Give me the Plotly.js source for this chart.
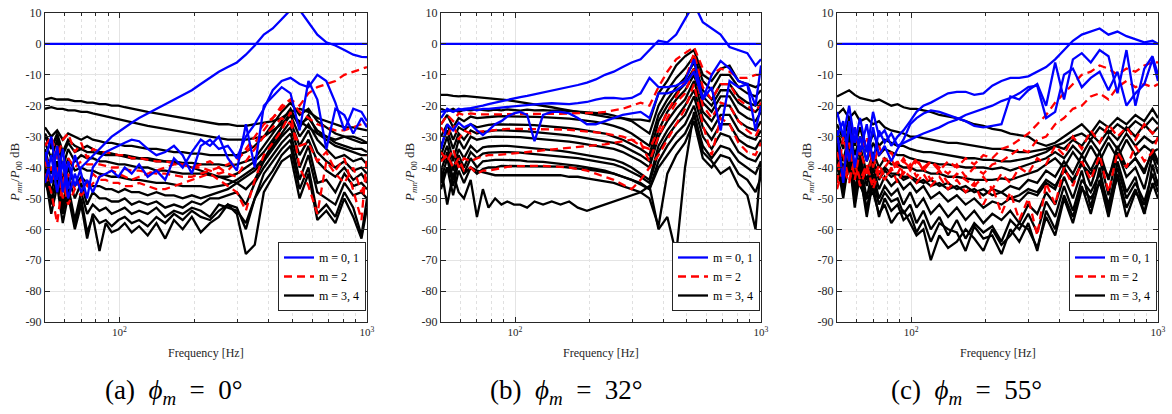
<!DOCTYPE html>
<html>
<head>
<meta charset="utf-8">
<script src="https://cdn.plot.ly/plotly-3.0.1.min.js"></script>
<style>
html,body{margin:0;padding:0;background:#fff;}
#chart{width:1172px;height:414px;}
</style>
</head>
<body>
<div id="chart"></div>
<script>
// ---------- DATA ----------
const freq = [50,53,56,59,62,66,70,74,78,83, 88,93,99,105,112,120,130,141,153,166, 180,196,213,232,252,274,298,324,352,383, 416,452,491,534,580,630,685,745,810,880, 950,1000];
const zeroFreq = [50,1000];
const zeroVal = [0,0];
const legendNames = ["m = 0, 1", "m = 2", "m = 3, 4"];
const captions = [
  "(a)&nbsp;&nbsp;<i>ϕ</i><sub><i>m</i></sub>&nbsp;&nbsp;=&nbsp;&nbsp;0°",
  "(b)&nbsp;&nbsp;<i>ϕ</i><sub><i>m</i></sub>&nbsp;&nbsp;=&nbsp;&nbsp;32°",
  "(c)&nbsp;&nbsp;<i>ϕ</i><sub><i>m</i></sub>&nbsp;&nbsp;=&nbsp;&nbsp;55°"
];
const xTickVals = [100,1000];
const xTickText = ["10<sup>2</sup>","10<sup>3</sup>"];
const xMinorVals = [50,60,70,80,90,200,300,400,500,600,700,800,900];
const yTickVals = [-90,-80,-70,-60,-50,-40,-30,-20,-10,0,10];
const yTickText = ["-90","-80","-70","-60","-50","-40","-30","-20","-10","0","10"];

// Panel (a) phi = 0
const aBlue1 = [-35,-45,-33,-48,-38,-46,-40,-38,-36,-34, -32,-30,-28.5,-27,-25.5,-24,-22.5,-21,-19.5,-18, -16.5,-15,-13,-11,-9,-7.5,-6,-3.5,-0.5,3, 5,8,11,11,7,3,0.5,-0.5,-2,-3.5, -4.2,-4.3];
const aBlue2 = [-38,-30,-44,-34,-47,-36,-42,-50,-40,-37, -35,-34,-33,-32,-31,-31.5,-34,-36,-35,-33, -36,-42,-33,-31,-34,-33,-37,-30,-26,-21, -15,-12,-11,-13,-14,-10,-12,-19,-28,-21, -22,-25];
const aBlue3 = [-45,-36,-48,-38,-50,-42,-48,-44,-48,-43, -42,-41,-43,-40,-42,-39,-43,-41,-44,-37, -40,-35,-31,-33,-30,-37,-41,-26,-40,-20, -17,-14,-16,-28,-12,-18,-34,-21,-23,-29, -24,-27];
const aRed1 = [-33,-30,-37,-31,-29,-35,-32,-37,-34,-35, -35,-35.5,-36,-36,-37,-37,-37.5,-38,-38,-38.5, -39,-40,-40,-41,-42,-41,-38,-34,-30,-26, -24,-20,-18,-20,-16,-14,-13,-12,-10,-9, -8,-7.5];
const aRed2 = [-36,-41,-33,-45,-37,-40,-38,-39,-39,-39, -39.5,-40,-40,-40.5,-41,-41,-41.5,-42,-42,-42.5, -43,-43,-42,-41,-40,-39,-37,-35,-32,-28, -24,-21,-18,-22,-24,-26,-27,-28,-28,-27, -26,-26];
const aRed3 = [-38,-45,-40,-50,-42,-47,-44,-46,-42,-44, -44,-45,-45,-46,-46,-45,-46,-47,-47,-46, -45,-44,-43,-42,-44,-46,-48,-54,-44,-36, -32,-28,-22,-40,-46,-55,-38,-42,-45,-40, -48,-43];
const aRed4 = [-42,-48,-58,-44,-52,-47,-49,-47,-45,-43, -42,-41,-42,-43,-44,-43,-42,-41,-40,-39, -39,-40,-39,-38,-40,-42,-43,-38,-34,-30, -27,-24,-26,-33,-32,-38,-35,-41,-37,-47, -57,-36];
const aBlack1 = [-18,-17.5,-18,-18,-18,-18.5,-18.5,-19,-19,-19.5, -19.5,-20,-20,-20.5,-21,-21.5,-22,-22.5,-23,-23.5, -24,-24.5,-25,-25.5,-26,-26,-26.5,-26.5,-26,-25.5, -25,-24,-22,-21,-22,-24,-25,-26,-27,-27, -27.5,-28];
const aBlack2 = [-21,-20.5,-21,-21,-21.5,-21.5,-22,-22,-22.5,-23, -23.5,-24,-24.5,-25,-25.5,-26,-26.5,-27,-27.5,-28, -28.5,-29,-29.5,-30,-30.5,-31,-31,-31,-30.5,-30, -28,-26,-23,-25,-27,-29,-30,-31,-30,-31, -32,-32];
const aBlack3 = [-27,-30,-28,-31,-29,-30,-31,-30,-31,-31.5, -32,-32,-32.5,-33,-33,-33.5,-34,-34,-34.5,-35, -35,-35.5,-35.5,-36,-36,-36,-36,-35,-33,-30, -26,-22,-19,-23,-21,-25,-27,-29,-30,-30, -31,-32];
const aBlack4 = [-30,-34,-29,-35,-31,-33,-34,-33,-34,-35, -35,-35.5,-36,-36,-36.5,-37,-37,-37.5,-38,-38, -38.5,-38.5,-39,-39,-39,-39.5,-39,-38,-37,-33, -29,-25,-21,-27,-23,-29,-31,-33,-34,-35, -36,-36];
const aBlack5 = [-32,-37,-31,-40,-34,-38,-36,-37,-37,-38, -38,-38.5,-39,-39,-39.5,-40,-40,-41,-41,-41.5, -42,-42,-42,-42.5,-43,-43,-42,-40,-38,-35, -31,-27,-23,-30,-26,-31,-34,-37,-36,-38, -37,-39];
const aBlack6 = [-34,-42,-35,-44,-37,-41,-40,-41,-41,-42, -42.5,-43,-43,-43.5,-44,-44,-44.5,-45,-45,-45.5, -46,-46,-46,-46.5,-46,-45.5,-44,-42,-40,-37, -33,-29,-25,-33,-28,-35,-38,-40,-38,-41, -40,-42];
const aBlack7 = [-36,-45,-38,-48,-40,-46,-43,-45,-46,-46, -47,-47,-48,-47,-48,-48,-49,-48,-49,-49, -50,-49,-50,-49,-48,-47,-45,-43,-41,-38, -34,-30,-27,-36,-31,-38,-41,-43,-40,-44, -42,-45];
const aBlack8 = [-38,-48,-40,-52,-43,-50,-45,-52,-48,-50, -50,-51,-51,-50,-52,-51,-52,-51,-53,-52, -53,-51,-52,-50,-50,-49,-48,-52,-45,-40, -36,-32,-29,-40,-33,-45,-44,-48,-42,-46, -45,-47];
const aBlack9 = [-40,-52,-43,-55,-46,-57,-48,-55,-52,-54, -53,-55,-54,-53,-55,-54,-55,-53,-56,-54, -55,-53,-54,-56,-52,-53,-54,-58,-50,-42, -38,-34,-31,-44,-36,-48,-50,-52,-45,-49, -48,-50];
const aBlack10 = [-42,-55,-46,-58,-49,-60,-52,-63,-55,-58, -57,-59,-57,-56,-58,-57,-59,-56,-58,-55, -57,-54,-56,-57,-54,-52,-53,-60,-50,-45, -41,-36,-33,-47,-40,-55,-52,-56,-48,-53, -62,-50];
const aBlack11 = [-45,-50,-44,-53,-47,-59,-50,-61,-56,-67, -58,-61,-60,-58,-61,-59,-62,-58,-63,-57, -60,-56,-61,-58,-56,-52,-55,-68,-65,-48, -43,-38,-36,-50,-42,-57,-54,-58,-50,-56, -63,-53];
const aBlack12 = [-29,-33,-30,-36,-32,-35,-34,-35,-35,-35.5, -36,-36,-36,-36.5,-37,-37,-37.5,-38,-38,-38.5, -39,-40,-41,-42,-43,-44,-45,-47,-44,-38, -32,-27,-22,-26,-24,-28,-30,-32,-33,-34, -34,-35];

// Panel (b) phi = 32
const bBlue1 = [-22,-21.5,-21.8,-21.3,-21,-20.8,-20.5,-20,-19.5,-19, -18.5,-18,-17.5,-17.2,-16.8,-16.3,-15.8,-15.2,-14.6,-14, -13.3,-12.5,-11.5,-10,-9,-7.5,-6,-5,-2,1, 0.5,3,8,13,7,5,3,-1,-2,-3, -7,-5];
const bBlue2 = [-24,-21,-22,-21,-21.5,-21,-21.5,-21,-21,-20.8, -20.6,-20.5,-20.3,-20,-19.7,-19.5,-19.3,-19.2,-19.3,-19.5, -19.2,-18.8,-18,-17.5,-17.5,-17.8,-17.5,-16,-11,-14, -14,-13.5,-12,-5,-18,-10,-5.5,-8,-12,-13, -20,-7];
const bBlue3 = [-34,-26,-28,-25.5,-27,-26,-28,-29.5,-28,-26, -25,-23.5,-22.5,-22,-23,-31.5,-23,-22,-22,-22.5, -24,-26,-26,-25,-24,-23,-22.5,-22,-24,-16, -16,-15,-13,-9,-18,-14,-28,-12,-14,-13, -28,-20];
const bRed1 = [-26,-23,-25,-22.5,-23,-22.5,-22.8,-22.7,-22.8,-22.8, -22.8,-22.8,-22.8,-22.8,-22.8,-22.7,-22.7,-22.6,-22.6,-22.5, -22.5,-22.4,-22.3,-22,-21.5,-21,-20,-19,-20,-14, -9,-5,-3,-1,-8,-10,-8,-9,-11,-11, -10,-10];
const bRed2 = [-27,-30,-26,-31,-28,-29,-28.5,-28.3,-28,-27.8, -27.5,-27.5,-27.5,-27.5,-27.5,-27.5,-27.5,-27.6,-27.7,-27.8, -28,-28.3,-28.6,-29,-29.5,-30,-31,-33,-34,-28, -22,-17,-12,-3,-14,-18,-13,-13,-18,-20, -22,-19];
const bRed3 = [-35,-38,-34,-40,-37,-38,-37,-36.5,-36,-36, -35.8,-35.7,-35.5,-35.3,-35,-34.8,-34.5,-34.2,-34,-33.8, -33.5,-33.2,-33,-32.5,-32,-31.5,-31,-32,-38,-30, -24,-19,-16,-8,-20,-24,-19,-20,-25,-28, -30,-26];
const bRed4 = [-38,-36,-40,-37,-41,-40,-42,-41,-41,-40.5, -40,-39.8,-39.6,-39.5,-39.5,-39.5,-39.5,-39.6,-39.8,-40, -40.5,-41,-42,-43,-44,-45.5,-47,-44,-40,-36, -31,-26,-21,-13,-26,-36,-24,-26,-32,-35, -36,-32];
const bBlack1 = [-16.5,-16.5,-16.8,-17,-16.8,-17,-17.2,-17.3,-17.5,-17.7, -18,-18.2,-18.5,-18.8,-19.2,-19.5,-20,-20.5,-21,-21.5, -22,-22.5,-23,-23.5,-24,-24,-24.5,-24.5,-25,-16, -12,-7,-4,-2,-10,-12,-8,-7,-12,-13, -14,-13];
const bBlack2 = [-21,-21.8,-21,-22,-21.3,-21.5,-21.2,-21.4,-21.6,-21.3, -21.5,-21.2,-21.4,-21.6,-21.3,-21.5,-21.4,-21.6,-21.5,-21.7, -21.8,-22,-22.2,-22.6,-23.2,-24,-25,-27,-29,-20, -15,-11,-8,-4,-12,-15,-10,-10,-14,-16, -17,-15];
const bBlack3 = [-26,-23,-27,-24,-25,-23.5,-24,-23.8,-23.5,-23.5, -23.4,-23.4,-23.5,-23.5,-23.6,-23.6,-23.7,-23.8,-24,-24.2, -24.5,-24.8,-25.2,-25.8,-26.5,-27.5,-29,-31,-33,-23, -18,-14,-11,-6,-15,-18,-13,-13,-17,-19, -20,-18];
const bBlack4 = [-30,-26,-31,-27,-28,-26,-27,-26.5,-26.2,-26, -26,-26,-26,-26,-26.2,-26.3,-26.5,-26.7,-27,-27.3, -27.6,-28,-28.5,-29,-30,-31,-32.5,-34,-36,-25, -20,-16,-13,-8,-17,-20,-15,-15,-19,-21, -22,-20];
const bBlack5 = [-33,-28,-34,-29,-31,-28,-29,-28.5,-28.3,-28, -28,-28,-28,-28.2,-28.3,-28.5,-28.7,-29,-29.3,-29.6, -30,-30.5,-31,-31.5,-32,-33,-34.5,-36,-38,-28, -22,-18,-15,-10,-19,-22,-17,-17,-22,-24, -25,-22];
const bBlack6 = [-36,-30,-38,-31,-34,-30,-31,-30.5,-30.2,-30, -30,-30,-30.2,-30.2,-30.4,-30.6,-30.8,-31,-31.3,-31.6, -32,-32.5,-33,-33.5,-34,-35,-36.5,-38,-40,-30, -25,-21,-18,-12,-22,-25,-20,-20,-25,-27, -28,-25];
const bBlack7 = [-38,-33,-41,-34,-37,-33,-35,-33.5,-33.2,-33, -33,-33,-33.2,-33.3,-33.5,-33.7,-34,-34.3,-34.6,-35, -35.5,-36,-36.5,-37,-37.5,-38.5,-40,-42,-44,-33, -28,-24,-20,-15,-24,-28,-23,-23,-28,-30, -31,-28];
const bBlack8 = [-41,-35,-44,-36,-40,-35,-37,-35.5,-35.2,-35, -35,-35,-35,-35.2,-35.4,-35.6,-35.8,-36,-36.3,-36.7, -37,-37.5,-38,-38.5,-39,-40,-41.5,-43,-45,-35, -30,-26,-23,-17,-27,-31,-26,-26,-31,-33, -34,-31];
const bBlack9 = [-44,-37,-46,-38,-42,-37,-40,-38,-37.8,-37.5, -37.5,-37.5,-37.5,-37.7,-38,-38,-38.2,-38.5,-38.8,-39, -39.5,-40,-40.5,-41,-42,-43,-44,-45,-47,-38, -33,-29,-26,-20,-30,-34,-29,-30,-35,-37, -38,-35];
const bBlack10 = [-47,-40,-49,-41,-45,-40,-42,-40.5,-40,-40, -39.5,-39.5,-39.5,-39.5,-39.5,-39.5,-39.5,-39.5,-39.7,-40, -40.3,-40.7,-41,-41.5,-42,-43,-44,-45.5,-47,-40, -36,-32,-29,-23,-33,-37,-33,-34,-38,-40, -42,-38];
const bBlack11 = [-40,-52,-42,-48,-50,-44,-56,-47,-53,-50, -52,-51,-52,-52,-53,-51,-52,-51,-52,-51, -53,-54,-53,-52,-51,-50,-49,-48,-46,-60, -56,-68,-40,-22,-35,-38,-42,-40,-46,-49, -60,-38];
const bBlack12 = [-45,-40,-43,-38,-42,-40,-41,-41.5,-42,-42.5, -42.5,-42.5,-42.5,-42.5,-42.5,-42.5,-42.5,-42.5,-42.5,-43, -43,-43.5,-44,-44.5,-45,-46,-47,-48,-50,-59, -42,-36,-32,-25,-37,-40,-36,-37,-42,-44, -48,-43];

// Panel (c) phi = 55
const cBlue1 = [-22,-30,-20,-32,-24,-35,-22,-30,-28,-33, -30,-28,-25,-22,-20,-19,-17.5,-16,-15.5,-15.5, -16.5,-16,-13.5,-12,-11,-11,-10.5,-9,-7.5,-5, -2,1,3,4,5,3,4,2.5,1.5,0.5, 1,0];
const cBlue2 = [-28,-45,-25,-40,-30,-38,-27,-36,-33,-38, -34,-31,-26,-24,-22.5,-21.5,-22,-23,-24,-25, -26.5,-27,-26.5,-26,-17,-18,-15,-13,-20,-6, -18,-5,-3,-6,-2,-4,-16,-2,-20,-8, -4,-10];
const cBlue3 = [-30,-25,-38,-27,-35,-26,-38,-28,-32,-29, -33,-32,-31,-30,-29,-28,-27,-25.5,-24.5,-23, -22,-21,-20,-18.5,-17.5,-16,-14,-13.5,-24,-22, -10,-8,-14,-11,-9,-15,-9,-20,-16,-13, -5,-12];
const cRed1 = [-45,-30,-38,-27,-36,-30,-40,-33,-38,-35, -40,-37,-41,-38,-40,-38,-41,-38,-40,-37, -39,-36,-37,-34,-33,-31,-29,-26,-23,-19, -16,-13,-10,-9,-7,-8,-10,-8,-9,-7, -6,-6];
const cRed2 = [-35,-42,-32,-44,-34,-42,-36,-44,-40,-37, -42,-38,-40,-37,-41,-38,-40,-42,-39,-43, -40,-42,-39,-38,-36,-34,-35,-31,-30,-26, -24,-21,-20,-17,-16,-18,-14,-12,-14,-13, -14,-13];
const cRed3 = [-40,-36,-44,-38,-46,-40,-45,-39,-43,-41, -38,-42,-39,-43,-40,-44,-41,-45,-42,-44, -46,-43,-47,-42,-45,-40,-42,-37,-39,-33, -36,-30,-34,-28,-32,-26,-30,-27,-31,-26, -29,-27];
const cRed4 = [-47,-40,-45,-37,-44,-39,-47,-41,-44,-40, -45,-41,-43,-45,-42,-46,-43,-47,-44,-48, -45,-52,-46,-55,-48,-57,-50,-62,-45,-52, -40,-46,-38,-44,-36,-48,-35,-40,-33,-38, -35,-30];
const cBlack1 = [-17,-16,-15,-16.5,-17.5,-18,-18.5,-18,-19,-20, -19.5,-20.5,-21,-21,-21.5,-22,-23,-23.5,-24,-25, -26,-26.5,-27.5,-28,-29,-29.5,-30,-32,-33,-32, -30,-28,-26,-29,-25,-27,-24,-26,-23,-25, -21,-24];
const cBlack2 = [-23,-21,-24,-22,-25,-24,-26,-25,-27,-28, -28.5,-29,-30,-30,-30.5,-31,-31.5,-32,-32,-32.5, -33,-33.5,-34,-34,-34.5,-35,-35,-34.5,-34,-33, -32,-30,-29,-31,-27,-29,-26,-28,-25,-27, -24,-26];
const cBlack3 = [-26,-31,-24,-33,-27,-35,-29,-33,-31,-32, -33,-33,-34,-34.5,-35,-35,-35.5,-36,-36.5,-37, -37,-37.5,-37.5,-38,-38,-37.5,-37,-36,-35,-33, -34,-31,-33,-29,-32,-28,-31,-27,-30,-26, -29,-27];
const cBlack4 = [-28,-34,-27,-36,-30,-38,-32,-36,-34,-35, -36,-36,-37,-37.5,-38,-38.5,-39,-39,-39.5,-40, -40,-40,-40.5,-40,-41,-40,-39,-38,-37,-35, -37,-33,-36,-31,-35,-30,-34,-29,-33,-30, -32,-31];
const cBlack5 = [-30,-38,-29,-40,-33,-42,-35,-40,-37,-39, -39,-40,-40,-41,-41,-42,-42,-43,-43,-43.5, -44,-44,-44,-43.5,-44,-43,-42,-41,-39,-37, -40,-35,-39,-33,-38,-32,-37,-31,-36,-33, -35,-34];
const cBlack6 = [-32,-42,-31,-44,-36,-46,-38,-44,-41,-43, -42,-44,-43,-45,-44,-46,-45,-47,-46,-48, -47,-49,-47,-48,-46,-47,-44,-45,-41,-43, -38,-42,-36,-41,-35,-44,-33,-40,-37,-42, -34,-38];
const cBlack7 = [-34,-45,-33,-48,-38,-50,-40,-47,-43,-46, -44,-47,-45,-48,-46,-50,-48,-51,-49,-52, -50,-53,-51,-52,-50,-51,-48,-49,-45,-47, -40,-45,-38,-46,-37,-49,-35,-43,-40,-47, -36,-42];
const cBlack8 = [-36,-48,-35,-51,-40,-54,-42,-50,-46,-49, -47,-52,-48,-53,-50,-55,-52,-56,-53,-57, -54,-58,-55,-57,-54,-58,-52,-55,-48,-52, -43,-50,-41,-53,-40,-55,-38,-48,-43,-55, -39,-46];
const cBlack9 = [-38,-50,-37,-53,-42,-56,-44,-52,-48,-51, -50,-55,-52,-58,-54,-60,-56,-62,-57,-63, -58,-61,-59,-64,-57,-60,-55,-61,-51,-56, -46,-54,-44,-48,-42,-52,-40,-50,-45,-51, -42,-48];
const cBlack10 = [-40,-46,-39,-49,-44,-53,-46,-56,-50,-54, -52,-57,-55,-61,-57,-64,-58,-60,-61,-67, -59,-63,-62,-68,-60,-64,-58,-67,-54,-60, -49,-56,-46,-55,-44,-56,-42,-53,-47,-55, -45,-50];
const cBlack11 = [-42,-47,-40,-45,-46,-50,-48,-55,-52,-58, -55,-54,-58,-62,-60,-70,-62,-66,-64,-60, -63,-67,-60,-65,-62,-58,-60,-66,-56,-62, -50,-58,-47,-50,-45,-53,-43,-56,-48,-52, -46,-44];
const cBlack12 = [-35,-40,-34,-42,-37,-44,-38,-42,-40,-42, -42,-43,-43,-44,-45,-44,-46,-45,-47,-46, -48,-47,-49,-48,-50,-49,-47,-48,-44,-46, -41,-44,-39,-42,-38,-43,-36,-40,-37,-41, -35,-39];

// ---------- BUILD ----------
const FONT = "'Liberation Serif', 'DejaVu Serif', serif";
const BLUE = "#0000ff", RED = "#ff0000", BLACK = "#000000";

const panels = [
  {blues:[aBlue1,aBlue2,aBlue3], reds:[aRed1,aRed2,aRed3,aRed4],
   blacks:[aBlack1,aBlack2,aBlack3,aBlack4,aBlack5,aBlack6,aBlack7,aBlack8,aBlack9,aBlack10,aBlack11,aBlack12]},
  {blues:[bBlue1,bBlue2,bBlue3], reds:[bRed1,bRed2,bRed3,bRed4],
   blacks:[bBlack1,bBlack2,bBlack3,bBlack4,bBlack5,bBlack6,bBlack7,bBlack8,bBlack9,bBlack10,bBlack11,bBlack12]},
  {blues:[cBlue1,cBlue2,cBlue3], reds:[cRed1,cRed2,cRed3,cRed4],
   blacks:[cBlack1,cBlack2,cBlack3,cBlack4,cBlack5,cBlack6,cBlack7,cBlack8,cBlack9,cBlack10,cBlack11,cBlack12]}
];

// pixel geometry
const W = 1172, H = 414;
const plotPx = [[45,367],[441,761],[837,1158]];
const yPx = [13,322];
const legendRight = [366,760,1157];
const captionX = [174,566,966];
const yTitleX = [15,410,807];

const traces = [];
panels.forEach((p, i) => {
  const xa = i === 0 ? "x" : "x" + (i + 1);
  const ya = i === 0 ? "y" : "y" + (i + 1);
  const lg = i === 0 ? "legend" : "legend" + (i + 1);
  const add = (x, y, color, dash, group, show) => traces.push({
    type: "scatter", mode: "lines", x: x, y: y, xaxis: xa, yaxis: ya,
    line: {color: color, width: 2.3, dash: dash},
    name: legendNames[group], legendgroup: "g" + i + "_" + group,
    legend: lg, showlegend: show, legendrank: group + 1, hoverinfo: "skip"
  });
  p.blacks.forEach((s, k) => add(freq, s, BLACK, "solid", 2, k === 0));
  p.reds.forEach((s, k) => add(freq, s, RED, "8px,5px", 1, k === 0));
  p.blues.forEach((s, k) => add(freq, s, BLUE, "solid", 0, false));
  add(zeroFreq, zeroVal, BLUE, "solid", 0, true);
});

const layout = {
  width: W, height: H,
  margin: {l: 0, r: 0, t: 0, b: 0},
  paper_bgcolor: "#ffffff", plot_bgcolor: "#ffffff",
  showlegend: true,
  font: {family: FONT, color: "#262626"},
  annotations: []
};

const yDomain = [1 - yPx[1] / H, 1 - yPx[0] / H];
plotPx.forEach((px, i) => {
  const suf = i === 0 ? "" : String(i + 1);
  layout["xaxis" + suf] = {
    type: "log", range: [1.69897, 3], domain: [px[0] / W, px[1] / W],
    anchor: "y" + suf,
    tickmode: "array", tickvals: xTickVals, ticktext: xTickText,
    ticks: "inside", ticklen: 5, tickcolor: "#262626", tickwidth: 1,
    showline: true, linecolor: "#262626", linewidth: 1, mirror: "ticks",
    showgrid: true, gridcolor: "#e4e4e4", gridwidth: 1, zeroline: false,
    tickfont: {family: FONT, size: 11, color: "#262626"},
    minor: {tickmode: "array", tickvals: xMinorVals, ticks: "inside", ticklen: 3,
            tickcolor: "#262626", showgrid: true, gridcolor: "#e0e0e0", griddash: "dot", gridwidth: 1}
  };
  layout["yaxis" + suf] = {
    range: [-90, 10], domain: yDomain, anchor: "x" + suf,
    tickmode: "array", tickvals: yTickVals, ticktext: yTickText,
    ticks: "inside", ticklen: 5, tickcolor: "#262626", tickwidth: 1,
    showline: true, linecolor: "#262626", linewidth: 1, mirror: "ticks",
    showgrid: true, gridcolor: "#e4e4e4", gridwidth: 1, zeroline: false,
    tickfont: {family: FONT, size: 12, color: "#262626"}
  };
  layout["legend" + suf] = {
    x: legendRight[i] / W, xanchor: "right", y: 1 - 311 / H, yanchor: "bottom",
    xref: "paper", yref: "paper",
    bgcolor: "#ffffff", bordercolor: "#262626", borderwidth: 1,
    font: {family: FONT, size: 12, color: "#000000"},
    tracegroupgap: 0, itemwidth: 30, traceorder: "normal"
  };
  const cx = (px[0] + px[1]) / 2 / W;
  layout.annotations.push({
    xref: "paper", yref: "paper", x: cx, y: 1 - 353 / H, xanchor: "center", yanchor: "middle",
    text: "Frequency [Hz]", showarrow: false, font: {family: FONT, size: 12, color: "#262626"}
  });
  layout.annotations.push({
    xref: "paper", yref: "paper", x: yTitleX[i] / W, y: 1 - 172 / H, xanchor: "center", yanchor: "middle",
    textangle: -90,
    text: "<i>P</i><sub><i>mn</i></sub>/<i>P</i><sub>00</sub> dB", showarrow: false,
    font: {family: FONT, size: 13, color: "#262626"}
  });
  layout.annotations.push({
    xref: "paper", yref: "paper", x: captionX[i] / W, y: 1 - 392 / H, xanchor: "center", yanchor: "middle",
    text: captions[i], showarrow: false, font: {family: FONT, size: 27, color: "#000000"}
  });
});

Plotly.newPlot("chart", traces, layout, {displayModeBar: false, staticPlot: true});
</script>
</body>
</html>
